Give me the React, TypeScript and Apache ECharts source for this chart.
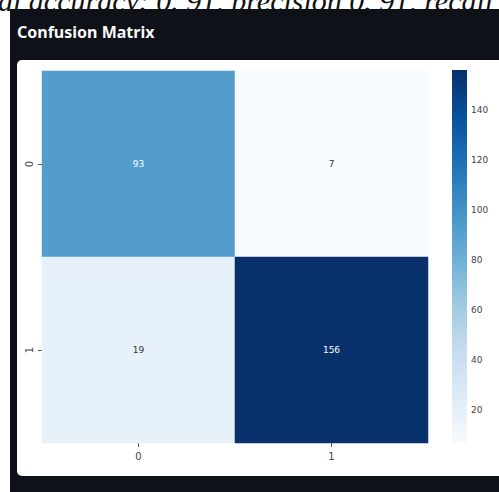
import React, { useEffect, useRef } from "react";
import * as echarts from "echarts";

const xCategories = ["0", "1"];
const yCategories = ["0", "1"];
// [col, row, count]
const cellValues: number[][] = [
  [0, 0, 93],
  [1, 0, 7],
  [0, 1, 19],
  [1, 1, 156],
];
const colorbarTicks = [20, 40, 60, 80, 100, 120, 140];
const valueMin = 7;
const valueMax = 156;
const bluesColors = [
  "#f7fbff", "#deebf7", "#c6dbef", "#9ecae1", "#6baed6",
  "#4292c6", "#2171b5", "#08519c", "#08306b",
];
const headerText = "al accuracy: 0. 91, precision 0. 91, recall";
const titleText = "Confusion Matrix";

export default function App() {
  const ref = useRef<HTMLDivElement>(null);
  useEffect(() => {
    if (!ref.current) return;
    const chart = echarts.init(ref.current, null, { renderer: "svg" });
    const fontFamily = "DejaVu Sans";
    const n = bluesColors.length - 1;
    // top of the colorbar = darkest, bottom = lightest
    const gradientStops = bluesColors.map((c, i) => ({ offset: 1 - i / n, color: c }))
      .sort((a, b) => a.offset - b.offset);
    chart.setOption({
      animation: false,
      backgroundColor: "#ffffff",
      graphic: [
        {
          type: "text",
          z: -20,
          x: -2,
          y: 15,
          style: {
            text: headerText,
            font: "italic 30px 'Liberation Serif'",
            fill: "#111",
            textVerticalAlign: "bottom",
          },
        },
        {
          type: "rect",
          z: -15,
          shape: { x: 10, y: 9, width: 489, height: 483 },
          style: { fill: "#0e1117" },
        },
        {
          type: "rect",
          z: -10,
          shape: { x: 17, y: 60, width: 500, height: 416, r: 5 },
          style: { fill: "#ffffff" },
        },
        {
          type: "text",
          z: -5,
          x: 17,
          y: 32,
          style: {
            text: titleText,
            font: "bold 16px 'Noto Sans'",
            fill: "#fafafa",
            textVerticalAlign: "middle",
          },
        },
      ],
      grid: [
        { left: 42, top: 71, width: 386, height: 372 },
        { left: 452, top: 70, width: 15, height: 373 },
      ],
      xAxis: [
        {
          type: "category",
          gridIndex: 0,
          data: xCategories,
          position: "bottom",
          axisLine: { show: false },
          axisTick: { show: true, alignWithLabel: true, length: 4, lineStyle: { color: "#555" } },
          axisLabel: { color: "#444", fontSize: 10, fontFamily, margin: 8 },
          splitLine: { show: false },
        },
        {
          type: "value",
          gridIndex: 1,
          show: false,
          min: 0,
          max: 1,
        },
      ],
      yAxis: [
        {
          type: "category",
          gridIndex: 0,
          data: yCategories,
          inverse: true,
          axisLine: { show: false },
          axisTick: { show: true, alignWithLabel: true, length: 4, lineStyle: { color: "#555" } },
          axisLabel: { color: "#444", fontSize: 10, fontFamily, rotate: 90, margin: 8 },
          splitLine: { show: false },
        },
        {
          type: "value",
          gridIndex: 1,
          position: "right",
          min: valueMin,
          max: valueMax,
          axisLine: { show: false },
          axisTick: {
            show: true,
            length: 3,
            customValues: colorbarTicks,
            lineStyle: { color: "#555" },
          },
          axisLabel: {
            color: "#444",
            fontSize: 9,
            fontFamily,
            margin: 4,
            customValues: colorbarTicks,
          },
          splitLine: { show: false },
        },
      ],
      visualMap: {
        show: false,
        seriesIndex: 0,
        min: valueMin,
        max: valueMax,
        dimension: 2,
        inRange: { color: bluesColors },
      },
      series: [
        {
          type: "heatmap",
          xAxisIndex: 0,
          yAxisIndex: 0,
          data: cellValues.map((d) => ({
            value: d,
            label: { color: d[2] > (valueMin + valueMax) / 2 - 10 ? "#ffffff" : "#333333" },
          })),
          label: { show: true, fontSize: 9, fontFamily },
          itemStyle: { borderWidth: 0 },
        },
        {
          type: "custom",
          xAxisIndex: 1,
          yAxisIndex: 1,
          data: [[0, valueMin, valueMax]],
          renderItem: (params: any, api: any) => {
            const p0 = api.coord([0, api.value(2)]);
            const p1 = api.coord([1, api.value(1)]);
            return {
              type: "rect",
              shape: { x: p0[0], y: p0[1], width: p1[0] - p0[0], height: p1[1] - p0[1] },
              style: {
                fill: new echarts.graphic.LinearGradient(0, 0, 0, 1, gradientStops),
              },
            };
          },
        },
      ],
    });
    return () => chart.dispose();
  }, []);
  return (
    <div
      ref={ref}
      style={{ position: "fixed", left: 0, top: 0, width: 499, height: 492 }}
    />
  );
}
